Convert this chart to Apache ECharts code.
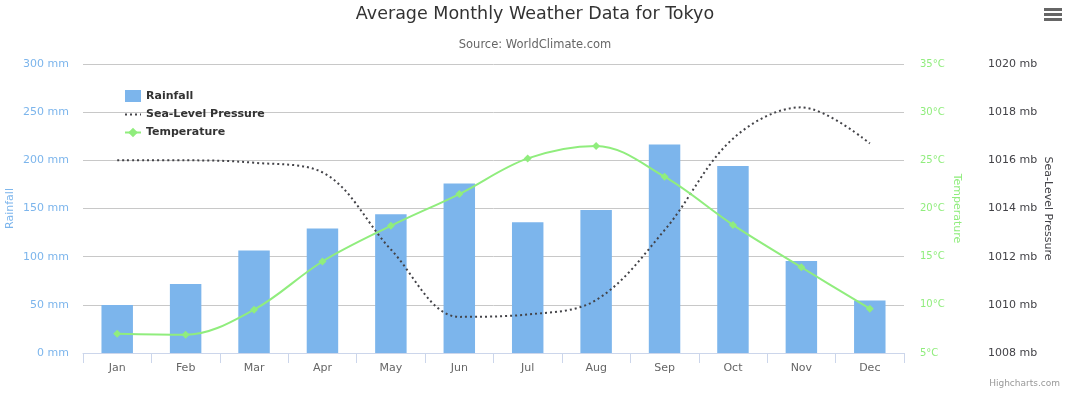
<!DOCTYPE html>
<html>
<head>
<meta charset="utf-8">
<script src="https://cdn.jsdelivr.net/npm/echarts@6/dist/echarts.min.js"></script>
<style>
html,body{margin:0;padding:0;background:#fff;}
#chart{width:1070px;height:394px;}
</style>
</head>
<body>
<div id="chart"></div>
<script>
const categories = ['Jan','Feb','Mar','Apr','May','Jun','Jul','Aug','Sep','Oct','Nov','Dec'];
const rainfall = [49.9, 71.5, 106.4, 129.2, 144.0, 176.0, 135.6, 148.5, 216.4, 194.1, 95.6, 54.4];
const pressure = [1016, 1016, 1015.9, 1015.5, 1012.3, 1009.5, 1009.6, 1010.2, 1013.1, 1016.9, 1018.2, 1016.7];
const temperature = [7.0, 6.9, 9.5, 14.5, 18.2, 21.5, 25.2, 26.5, 23.3, 18.3, 13.9, 9.6];

const FONT = '"DejaVu Sans", Verdana, sans-serif';
const chart = echarts.init(document.getElementById('chart'), null, {renderer:'canvas'});
chart.setOption({
  backgroundColor:'#fff',
  animation:false,
  textStyle:{fontFamily:FONT},
  title:[
    {text:'Average Monthly Weather Data for Tokyo', left:'center', top:0,
     textStyle:{fontFamily:FONT, fontSize:17.5, fontWeight:'normal', color:'#333'}},
    {text:'Source: WorldClimate.com', left:'center', top:34,
     textStyle:{fontFamily:FONT, fontSize:11.5, fontWeight:'normal', color:'#666'}}
  ],
  legend:{
    orient:'vertical', left:124, top:90, padding:0, itemGap:7, itemWidth:16, itemHeight:12,
    textStyle:{fontFamily:FONT, fontSize:11, fontWeight:'bold', color:'#333'},
    data:[
      {name:'Rainfall', icon:'rect'},
      {name:'Sea-Level Pressure', itemStyle:{opacity:0}},
      {name:'Temperature'}
    ]
  },
  grid:{left:83, right:166, top:64, bottom:41, outerBoundsMode:'none', containLabel:false},
  xAxis:{
    type:'category', data:categories, boundaryGap:true,
    axisLine:{lineStyle:{color:'#ccd6eb'}},
    axisTick:{show:true, length:10, lineStyle:{color:'#ccd6eb'}},
    axisLabel:{color:'#666', fontSize:11, fontFamily:FONT, margin:10}
  },
  yAxis:[
    {type:'value', position:'left', min:0, max:300, interval:50,
     name:'Rainfall', nameLocation:'middle', nameGap:67, nameMoveOverlap:false,
     nameTextStyle:{color:'#7cb5ec', fontSize:11, fontFamily:FONT},
     axisLabel:{color:'#7cb5ec', fontSize:11, fontFamily:FONT, formatter:'{value} mm', margin:14},
     splitLine:{lineStyle:{color:'#c8c8c8'}},
     axisLine:{show:false}, axisTick:{show:false}},
    {type:'value', position:'right', min:5, max:35, interval:5,
     name:'Temperature', nameLocation:'middle', nameGap:47, nameRotate:-90, nameMoveOverlap:false,
     nameTextStyle:{color:'#90ed7d', fontSize:11, fontFamily:FONT},
     axisLabel:{color:'#90ed7d', fontSize:10, fontFamily:FONT, formatter:'{value}°C', margin:16},
     splitLine:{show:false}, axisLine:{show:false}, axisTick:{show:false}},
    {type:'value', position:'right', offset:76, min:1008, max:1020, interval:2,
     name:'Sea-Level Pressure', nameLocation:'middle', nameGap:62, nameRotate:-90, nameMoveOverlap:false,
     nameTextStyle:{color:'#434348', fontSize:11, fontFamily:FONT},
     axisLabel:{color:'#434348', fontSize:11, fontFamily:FONT, formatter:function(v){return v + ' mb';}, margin:8},
     splitLine:{show:false}, axisLine:{show:false}, axisTick:{show:false}}
  ],
  series:[
    {name:'Rainfall', type:'bar', yAxisIndex:0, data:rainfall, barWidth:'46%',
     itemStyle:{color:'#7cb5ec'}},
    {name:'Sea-Level Pressure', type:'line', yAxisIndex:2, data:pressure, smooth:0.35,
     symbol:'none', lineStyle:{color:'#434348', width:2, type:[2,3]}, itemStyle:{color:'#434348'}},
    {name:'Temperature', type:'line', yAxisIndex:1, data:temperature, smooth:0.35,
     symbol:'diamond', symbolSize:8, lineStyle:{color:'#90ed7d', width:2},
     itemStyle:{color:'#90ed7d'}}
  ],
  graphic:[
    {type:'text', right:10, bottom:6, style:{text:'Highcharts.com', fill:'#999', fontSize:9, fontFamily:FONT}},
    {type:'rect', shape:{x:1044, y:8, width:18, height:3}, style:{fill:'#666'}},
    {type:'rect', shape:{x:1044, y:13, width:18, height:3}, style:{fill:'#666'}},
    {type:'rect', shape:{x:1044, y:18, width:18, height:3}, style:{fill:'#666'}}
  ]
});
</script>
</body>
</html>
